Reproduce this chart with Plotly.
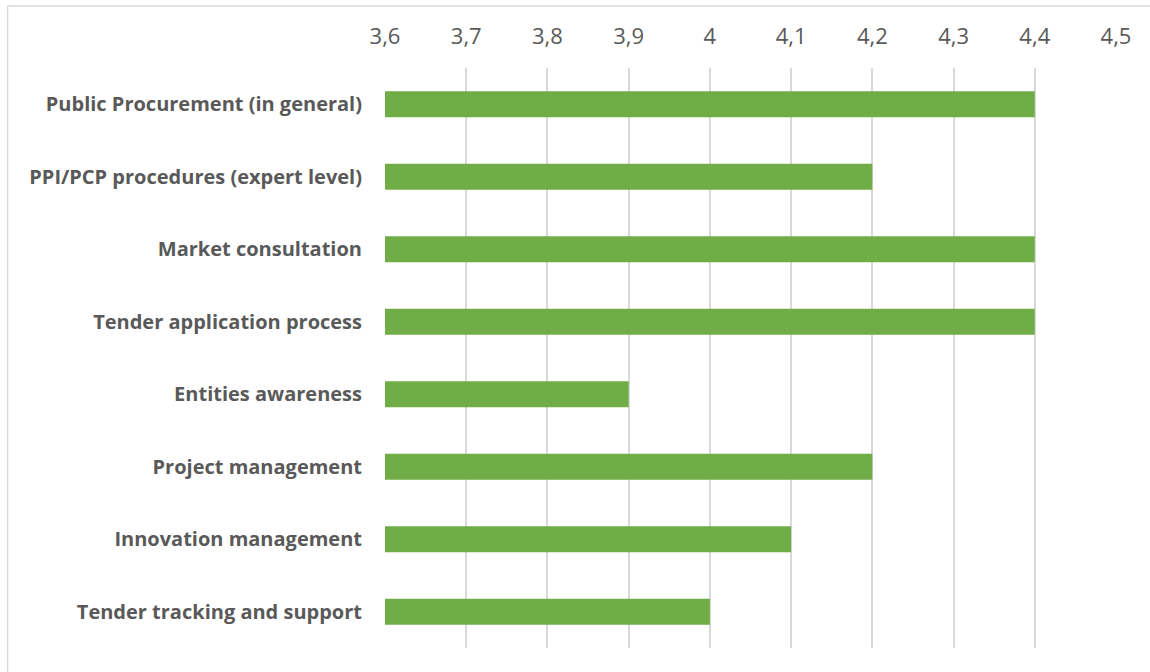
import plotly.graph_objects as go

categories = [
    "Public Procurement (in general)",
    "PPI/PCP procedures (expert level)",
    "Market consultation",
    "Tender application process",
    "Entities awareness",
    "Project management",
    "Innovation management",
    "Tender tracking and support",
]
scores = [4.4, 4.2, 4.4, 4.4, 3.9, 4.2, 4.1, 4.0]
tick_values = [3.6, 3.7, 3.8, 3.9, 4.0, 4.1, 4.2, 4.3, 4.4, 4.5]
tick_labels = ["3,6", "3,7", "3,8", "3,9", "4", "4,1", "4,2", "4,3", "4,4", "4,5"]

W, H = 1150, 672
L, R, T, B = 384.5, 34.3, 68, 24
pw, ph = W - L - R, H - T - B

fig = go.Figure(
    go.Bar(
        x=scores,
        y=categories,
        orientation="h",
        marker=dict(color="#70ad47", line=dict(width=0)),
        width=0.36,
    )
)

fig.update_layout(
    width=W,
    height=H,
    margin=dict(l=L, r=R, t=T, b=B, autoexpand=False),
    paper_bgcolor="white",
    plot_bgcolor="white",
    showlegend=False,
    font=dict(family="Open Sans, Calibri, sans-serif", color="#595959"),
    separators=",.",
    xaxis=dict(
        side="top",
        range=[3.6, 4.5],
        tickvals=tick_values,
        ticktext=tick_labels,
        showgrid=True,
        gridcolor="#d9d9d9",
        gridwidth=1.5,
        zeroline=False,
        showline=False,
        ticks="",
        ticklabelstandoff=19,
        tickfont=dict(size=22, color="#595959"),
    ),
    yaxis=dict(
        autorange="reversed",
        showgrid=False,
        zeroline=False,
        showline=False,
        ticks="",
        ticklabelstandoff=22,
        tickfont=dict(size=20, color="#595959", weight="bold"),
    ),
    shapes=[
        dict(type="line", xref="paper", yref="paper",
             x0=(7 - L) / pw, x1=(W - L) / pw,
             y0=1 + (T - 6) / ph, y1=1 + (T - 6) / ph,
             line=dict(color="#d9d9d9", width=1.5)),
        dict(type="line", xref="paper", yref="paper",
             x0=(7 - L) / pw, x1=(7 - L) / pw,
             y0=1 + (T - 6) / ph, y1=-(B + 2) / ph,
             line=dict(color="#d9d9d9", width=1.5)),
    ],
)

fig.write_html("out.html")
